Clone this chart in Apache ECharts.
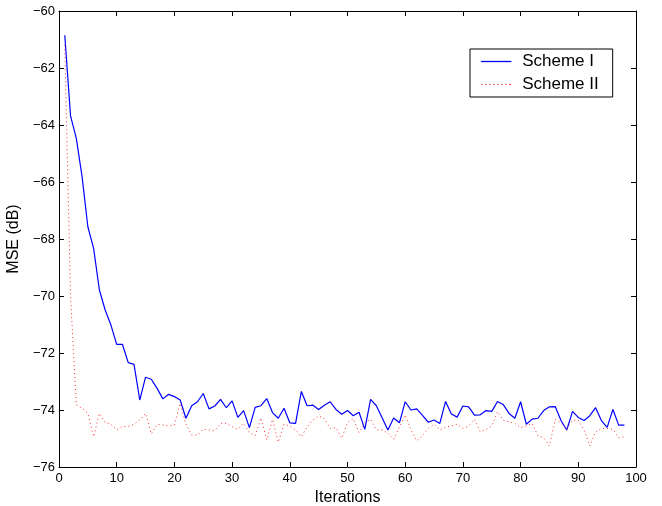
<!DOCTYPE html>
<html><head><meta charset="utf-8">
<script src="https://cdn.jsdelivr.net/npm/echarts@6/dist/echarts.min.js"></script>
<style>html,body{margin:0;padding:0;background:#fff}#c{width:662px;height:506px}</style>
</head><body><div id="c"></div>
<script>
const iterations = Array.from({length: 98}, (_, i) => i + 1);
const schemeI = [
 -60.85,-63.68,-64.47,-65.81,-67.57,-68.33,-69.79,-70.49,-71.02,-71.70,
 -71.70,-72.34,-72.40,-73.65,-72.85,-72.92,-73.24,-73.61,-73.45,-73.53,
 -73.65,-74.29,-73.85,-73.71,-73.42,-73.96,-73.86,-73.63,-73.92,-73.68,
 -74.26,-74.02,-74.62,-73.91,-73.85,-73.60,-74.09,-74.29,-73.94,-74.45,
 -74.47,-73.35,-73.85,-73.83,-73.98,-73.83,-73.71,-73.98,-74.15,-74.02,
 -74.20,-74.08,-74.68,-73.63,-73.85,-74.27,-74.70,-74.28,-74.45,-73.71,
 -74.00,-73.96,-74.19,-74.43,-74.35,-74.47,-73.70,-74.14,-74.25,-73.86,
 -73.89,-74.18,-74.17,-74.02,-74.05,-73.70,-73.81,-74.12,-74.29,-73.71,
 -74.50,-74.32,-74.29,-74.02,-73.89,-73.88,-74.37,-74.70,-74.05,-74.26,
 -74.37,-74.20,-73.92,-74.37,-74.61,-73.98,-74.53,-74.53
];
const schemeII = [
 -61.2,-70.0,-73.82,-73.94,-74.12,-74.94,-74.12,-74.44,-74.50,-74.70,
 -74.58,-74.58,-74.50,-74.35,-74.12,-74.84,-74.50,-74.53,-74.56,-74.53,
 -73.77,-74.50,-74.88,-74.88,-74.67,-74.70,-74.73,-74.47,-74.47,-74.58,
 -74.68,-74.47,-74.80,-74.90,-74.28,-75.05,-74.33,-75.13,-74.50,-74.56,
 -74.70,-74.94,-74.60,-74.35,-74.21,-74.30,-74.65,-74.62,-74.99,-74.44,
 -74.30,-74.79,-74.44,-74.33,-74.70,-74.70,-74.82,-75.03,-74.60,-74.18,
 -74.70,-75.08,-74.90,-74.65,-74.50,-74.70,-74.60,-74.56,-74.50,-74.65,
 -74.57,-74.33,-74.76,-74.68,-74.56,-74.06,-74.36,-74.42,-74.47,-74.62,
 -74.56,-74.47,-74.90,-74.98,-75.26,-74.33,-74.45,-74.68,-74.36,-74.36,
 -74.70,-75.26,-74.76,-74.65,-74.65,-74.68,-74.98,-74.93
];
const seriesNames = ['Scheme I', 'Scheme II'];
const font = 'Liberation Sans, Arial, Helvetica, sans-serif';
const minus = v => String(v).replace('-', '\u2212');

// legend icons: solid line and dotted line paths (30 x 1)
let dotted = '';
for (let i = 0; i < 30; i += 4) dotted += 'M' + i + ',0h1.2v1h-1.2z';
const solidIcon = 'path://M0,0H30V1H0Z';
const dottedIcon = 'path://' + dotted + 'M29,0h1v1h-1z';

const chart = echarts.init(document.getElementById('c'), null, {renderer: 'canvas'});
const axisCommon = {
  axisLine: {show: true, onZero: false, lineStyle: {color: '#000', width: 1}},
  axisTick: {show: true, inside: true, length: 5, lineStyle: {color: '#000'}},
  splitLine: {show: false}
};
chart.setOption({
  animation: false,
  backgroundColor: '#fff',
  grid: {left: 59, right: 26, top: 11, bottom: 39, containLabel: false, outerBoundsMode: 'none'},
  legend: {
    data: [
      {name: seriesNames[0], icon: solidIcon, itemStyle: {color: '#0000ff', borderColor: '#0000ff', borderWidth: 0.3}},
      {name: seriesNames[1], icon: dottedIcon, itemStyle: {color: '#ff3030', borderColor: '#ff3030', borderWidth: 0}}
    ],
    orient: 'vertical', left: 470, top: 49,
    backgroundColor: '#fff', borderColor: '#000', borderWidth: 1, borderRadius: 0,
    padding: [4, 14, 4, 11], itemGap: 6, itemWidth: 30, itemHeight: 16,
    textStyle: {fontFamily: font, fontSize: 17, color: '#000', padding: [0, 0, 0, 6]}
  },
  xAxis: [
    Object.assign({type: 'value', min: 0, max: 100, interval: 10, position: 'bottom',
      name: 'Iterations', nameLocation: 'middle', nameGap: 19,
      nameTextStyle: {fontFamily: font, fontSize: 16, color: '#000'},
      axisLabel: {fontFamily: font, fontSize: 13, color: '#000', margin: 5}}, axisCommon),
    Object.assign({type: 'value', min: 0, max: 100, interval: 10, position: 'top',
      axisLabel: {show: false}}, axisCommon)
  ],
  yAxis: [
    Object.assign({type: 'value', min: -76, max: -60, interval: 2, position: 'left',
      name: 'MSE (dB)', nameLocation: 'middle', nameGap: 29, nameRotate: 90,
      nameTextStyle: {fontFamily: font, fontSize: 16, color: '#000'},
      axisLabel: {fontFamily: font, fontSize: 13, color: '#000', margin: 4, formatter: minus}}, axisCommon),
    Object.assign({type: 'value', min: -76, max: -60, interval: 2, position: 'right',
      axisLabel: {show: false}}, axisCommon)
  ],
  series: [
    {name: seriesNames[0], type: 'line', showSymbol: false, symbol: 'none',
      data: iterations.map((x, i) => [x, schemeI[i]]),
      lineStyle: {color: '#0000ff', width: 1.2}, itemStyle: {color: '#0000ff'}},
    {name: seriesNames[1], type: 'line', showSymbol: false, symbol: 'none',
      data: iterations.map((x, i) => [x, schemeII[i]]),
      lineStyle: {color: '#ff3030', width: 1, type: [1, 3]}, itemStyle: {color: '#ff3030'}}
  ]
});
</script></body></html>
